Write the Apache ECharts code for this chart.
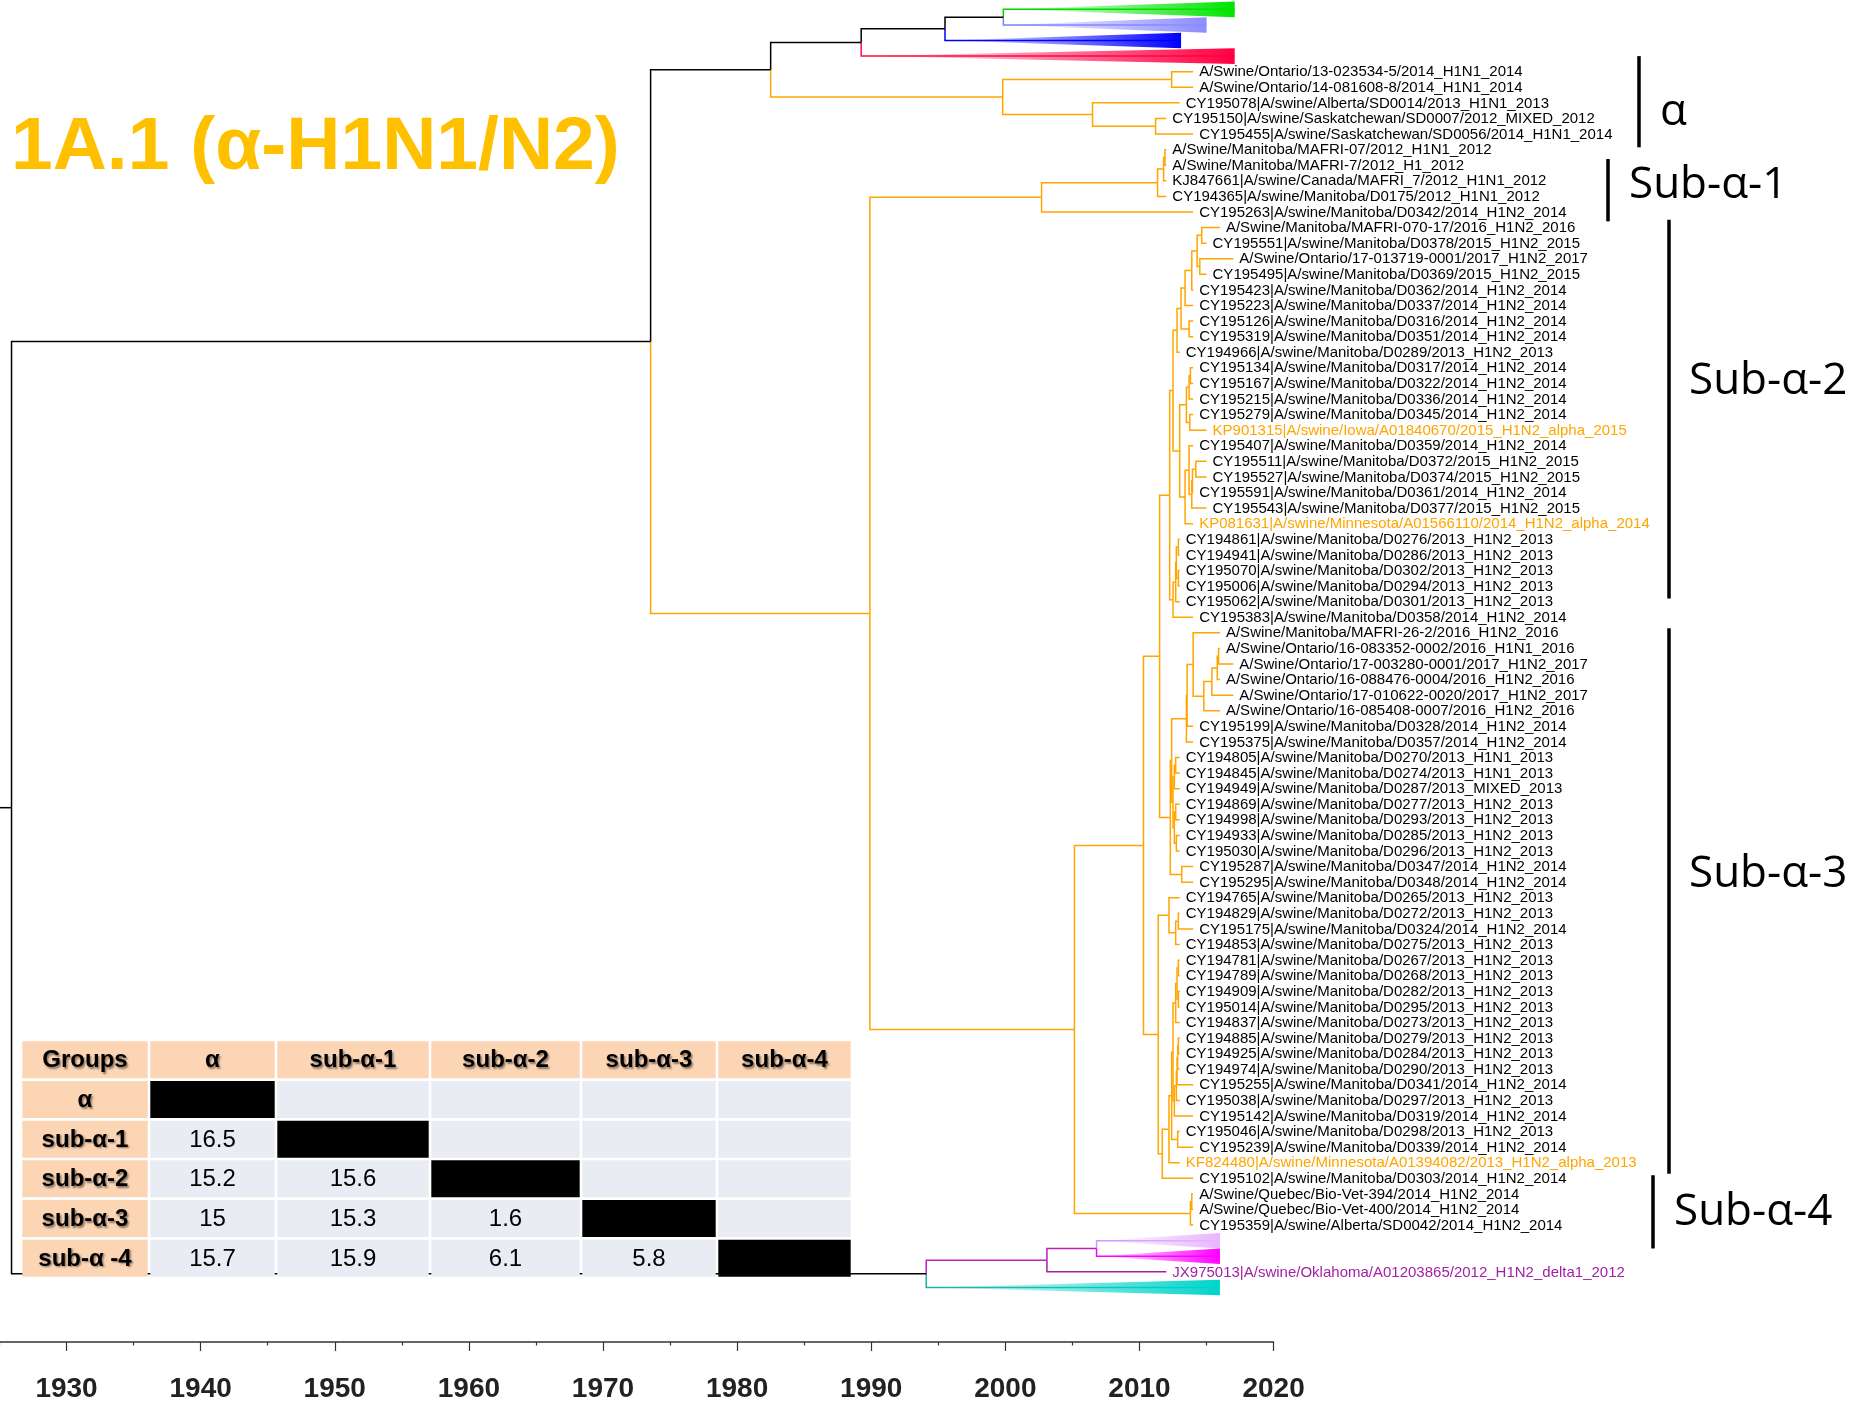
<!DOCTYPE html>
<html><head><meta charset="utf-8"><title>1A.1 phylogeny</title>
<script src="https://cdn.jsdelivr.net/npm/echarts@6/dist/echarts.min.js"></script>
<style>html,body{margin:0;padding:0;background:#fff}#chart{width:1849px;height:1404px}</style>
</head><body><div id="chart"></div>
<script>
// ---------------- DATA ----------------
const axisYears = [1930, 1940, 1950, 1960, 1970, 1980, 1990, 2000, 2010, 2020];

const leafNames = [
 'A/Swine/Ontario/13-023534-5/2014_H1N1_2014',
 'A/Swine/Ontario/14-081608-8/2014_H1N1_2014',
 'CY195078|A/swine/Alberta/SD0014/2013_H1N1_2013',
 'CY195150|A/swine/Saskatchewan/SD0007/2012_MIXED_2012',
 'CY195455|A/swine/Saskatchewan/SD0056/2014_H1N1_2014',
 'A/Swine/Manitoba/MAFRI-07/2012_H1N1_2012',
 'A/Swine/Manitoba/MAFRI-7/2012_H1_2012',
 'KJ847661|A/swine/Canada/MAFRI_7/2012_H1N1_2012',
 'CY194365|A/swine/Manitoba/D0175/2012_H1N1_2012',
 'CY195263|A/swine/Manitoba/D0342/2014_H1N2_2014',
 'A/Swine/Manitoba/MAFRI-070-17/2016_H1N2_2016',
 'CY195551|A/swine/Manitoba/D0378/2015_H1N2_2015',
 'A/Swine/Ontario/17-013719-0001/2017_H1N2_2017',
 'CY195495|A/swine/Manitoba/D0369/2015_H1N2_2015',
 'CY195423|A/swine/Manitoba/D0362/2014_H1N2_2014',
 'CY195223|A/swine/Manitoba/D0337/2014_H1N2_2014',
 'CY195126|A/swine/Manitoba/D0316/2014_H1N2_2014',
 'CY195319|A/swine/Manitoba/D0351/2014_H1N2_2014',
 'CY194966|A/swine/Manitoba/D0289/2013_H1N2_2013',
 'CY195134|A/swine/Manitoba/D0317/2014_H1N2_2014',
 'CY195167|A/swine/Manitoba/D0322/2014_H1N2_2014',
 'CY195215|A/swine/Manitoba/D0336/2014_H1N2_2014',
 'CY195279|A/swine/Manitoba/D0345/2014_H1N2_2014',
 'KP901315|A/swine/Iowa/A01840670/2015_H1N2_alpha_2015',
 'CY195407|A/swine/Manitoba/D0359/2014_H1N2_2014',
 'CY195511|A/swine/Manitoba/D0372/2015_H1N2_2015',
 'CY195527|A/swine/Manitoba/D0374/2015_H1N2_2015',
 'CY195591|A/swine/Manitoba/D0361/2014_H1N2_2014',
 'CY195543|A/swine/Manitoba/D0377/2015_H1N2_2015',
 'KP081631|A/swine/Minnesota/A01566110/2014_H1N2_alpha_2014',
 'CY194861|A/swine/Manitoba/D0276/2013_H1N2_2013',
 'CY194941|A/swine/Manitoba/D0286/2013_H1N2_2013',
 'CY195070|A/swine/Manitoba/D0302/2013_H1N2_2013',
 'CY195006|A/swine/Manitoba/D0294/2013_H1N2_2013',
 'CY195062|A/swine/Manitoba/D0301/2013_H1N2_2013',
 'CY195383|A/swine/Manitoba/D0358/2014_H1N2_2014',
 'A/Swine/Manitoba/MAFRI-26-2/2016_H1N2_2016',
 'A/Swine/Ontario/16-083352-0002/2016_H1N1_2016',
 'A/Swine/Ontario/17-003280-0001/2017_H1N2_2017',
 'A/Swine/Ontario/16-088476-0004/2016_H1N2_2016',
 'A/Swine/Ontario/17-010622-0020/2017_H1N2_2017',
 'A/Swine/Ontario/16-085408-0007/2016_H1N2_2016',
 'CY195199|A/swine/Manitoba/D0328/2014_H1N2_2014',
 'CY195375|A/swine/Manitoba/D0357/2014_H1N2_2014',
 'CY194805|A/swine/Manitoba/D0270/2013_H1N1_2013',
 'CY194845|A/swine/Manitoba/D0274/2013_H1N1_2013',
 'CY194949|A/swine/Manitoba/D0287/2013_MIXED_2013',
 'CY194869|A/swine/Manitoba/D0277/2013_H1N2_2013',
 'CY194998|A/swine/Manitoba/D0293/2013_H1N2_2013',
 'CY194933|A/swine/Manitoba/D0285/2013_H1N2_2013',
 'CY195030|A/swine/Manitoba/D0296/2013_H1N2_2013',
 'CY195287|A/swine/Manitoba/D0347/2014_H1N2_2014',
 'CY195295|A/swine/Manitoba/D0348/2014_H1N2_2014',
 'CY194765|A/swine/Manitoba/D0265/2013_H1N2_2013',
 'CY194829|A/swine/Manitoba/D0272/2013_H1N2_2013',
 'CY195175|A/swine/Manitoba/D0324/2014_H1N2_2014',
 'CY194853|A/swine/Manitoba/D0275/2013_H1N2_2013',
 'CY194781|A/swine/Manitoba/D0267/2013_H1N2_2013',
 'CY194789|A/swine/Manitoba/D0268/2013_H1N2_2013',
 'CY194909|A/swine/Manitoba/D0282/2013_H1N2_2013',
 'CY195014|A/swine/Manitoba/D0295/2013_H1N2_2013',
 'CY194837|A/swine/Manitoba/D0273/2013_H1N2_2013',
 'CY194885|A/swine/Manitoba/D0279/2013_H1N2_2013',
 'CY194925|A/swine/Manitoba/D0284/2013_H1N2_2013',
 'CY194974|A/swine/Manitoba/D0290/2013_H1N2_2013',
 'CY195255|A/swine/Manitoba/D0341/2014_H1N2_2014',
 'CY195038|A/swine/Manitoba/D0297/2013_H1N2_2013',
 'CY195142|A/swine/Manitoba/D0319/2014_H1N2_2014',
 'CY195046|A/swine/Manitoba/D0298/2013_H1N2_2013',
 'CY195239|A/swine/Manitoba/D0339/2014_H1N2_2014',
 'KF824480|A/swine/Minnesota/A01394082/2013_H1N2_alpha_2013',
 'CY195102|A/swine/Manitoba/D0303/2014_H1N2_2014',
 'A/Swine/Quebec/Bio-Vet-394/2014_H1N2_2014',
 'A/Swine/Quebec/Bio-Vet-400/2014_H1N2_2014',
 'CY195359|A/swine/Alberta/SD0042/2014_H1N2_2014',
 'JX975013|A/swine/Oklahoma/A01203865/2012_H1N2_delta1_2012'
];
const leafYears = [
 2014,2014,2013,2012,2014,
 2012,2012,2012,2012,2014,
 2016,2015,2017,2015,2014,2014,2014,2014,2013,2014,2014,2014,2014,2015,2014,2015,2015,2014,2015,2014,2013,2013,2013,2013,2013,2014,
 2016,2016,2017,2016,2017,2016,2014,2014,2013,2013,2013,2013,2013,2013,2013,2014,2014,2013,2013,2014,2013,2013,2013,2013,2013,2013,2013,2013,2013,2014,2013,2014,2013,2014,2013,2014,
 2014,2014,2014,
 2012
];
const referenceStrains = [23, 29, 70];      // orange labels
const outgroupStrains = [75];              // purple label
// collapsed clades (triangles): tip years and clade colour keys
const collapsedTips = [2017.1, 2015.0, 2013.1, 2017.1, 2016.0, 2016.0, 2016.0];
const collapsedTags = ['g', 'lb', 'b', 'r', 'li', 'm', 't'];
const rootStemYear = 1925;

// tree topology: N(nodeYear, children...) ; 'Lk' = leaf k, 'Ck' = collapsed clade k
const N = (t, ...kids) => ({ t, kids });
const tint = (node, tag) => { node.tag = tag; return node; };

const topCollapsed = N(1989.25, N(1995.5, N(1999.85, 'C0', 'C1'), 'C2'), 'C3');
const cladeAlpha = tint(N(1999.8, N(2012.4, 'L0', 'L1'), N(2006.5, 'L2', N(2011.2, 'L3', 'L4'))), 'o');
const cladeSubA1 = N(2002.7, N(2011.35, N(2011.8, N(2011.9, 'L5', 'L6'), 'L7'), 'L8'), 'L9');
const subA2upper1 = N(2012.8,
  N(2013.1, N(2013.4, N(2013.9, N(2014.3, N(2014.64, 'L10', 'L11'), N(2014.5, 'L12', 'L13')), 'L14'), 'L15'),
    N(2013.7, 'L16', 'L17')), 'L18');
const subA2upper2 = N(2013.0,
  N(2013.5, N(2013.7, N(2013.8, 'L19', 'L20'), 'L21'), N(2013.75, 'L22', 'L23')),
  N(2013.4, N(2013.7, 'L24', N(2013.9, N(2013.95, N(2014.2, 'L25', 'L26'), 'L27'), 'L28')), 'L29'));
const subA2lower = N(2012.5, N(2012.7, N(2012.75, N(2012.9, 'L30', 'L31'), N(2012.9, 'L32', 'L33')), 'L34'), 'L35');
const cladeSubA2 = N(2012.25, N(2012.5, subA2upper1, subA2upper2), subA2lower);
const subA3upper = N(2012.3,
  N(2012.4,
    N(2013.5, N(2013.55, N(2014.0, 'L36', N(2014.8, N(2015.4, N(2015.8, N(2015.9, 'L37', 'L38'), 'L39'), 'L40'), 'L41')), 'L42'), 'L43'),
    N(2012.5, N(2012.6, N(2012.7, 'L44', 'L45'), 'L46'), N(2012.6, N(2012.7, 'L47', 'L48'), N(2012.75, 'L49', 'L50')))),
  N(2013.15, 'L51', 'L52'));
const subA3lower = N(2011.4,
  N(2012.2, 'L53', N(2012.7, N(2012.9, 'L54', 'L55'), 'L56')),
  N(2011.7, N(2012.2, N(2012.4,
    N(2012.5,
      N(2012.7, N(2012.8, N(2012.9, 'L57', 'L58'), N(2012.9, 'L59', 'L60')), 'L61'),
      N(2012.6, N(2012.75, N(2012.8, N(2012.85, N(2012.9, 'L62', 'L63'), 'L64'), 'L65'), 'L66'), 'L67')),
    N(2012.85, 'L68', 'L69')), 'L70'), 'L71'));
const cladeSubA4 = N(2013.8, N(2013.9, 'L72', 'L73'), 'L74');
const orangeMain = tint(N(1989.9, cladeSubA1,
  N(2005.15, N(2010.3, N(2011.5, cladeSubA2, subA3upper), subA3lower), cladeSubA4)), 'o');
const outgroup = N(1994.1, tint(N(2003.1, tint(N(2006.8, 'C4', 'C5'), 'pm'), 'L75'), 'pm'), 'C6');
const treeRoot = N(1925.9, N(1973.55, N(1982.5, topCollapsed, cladeAlpha), orangeMain), outgroup);

// clade annotation bars (in leaf-row units)
const cladeNames = ['α', 'Sub-α-1', 'Sub-α-2', 'Sub-α-3', 'Sub-α-4'];
const cladeRowSpan = [[-1.0, 4.85], [5.6, 9.6], [9.5, 33.8], [35.7, 70.7], [70.8, 75.5]];

// distance table
const tableGroups = ['α', 'sub-α-1', 'sub-α-2', 'sub-α-3', 'sub-α-4'];
const tableRowLabels = ['α', 'sub-α-1', 'sub-α-2', 'sub-α-3', 'sub-α -4'];
const distRow1 = [16.5];
const distRow2 = [15.2, 15.6];
const distRow3 = [15, 15.3, 1.6];
const distRow4 = [15.7, 15.9, 6.1, 5.8];

// ---------------- STYLE / LAYOUT ----------------
const tagColors = { k: '#000000', o: '#ffa500', g: '#00d400', lb: '#7f7fff', b: '#0000ff', r: '#ff0a48',
  li: '#c79cff', m: '#ff00ff', pm: '#bb22bb', p: '#a31fa3', t: '#26aea6' };
const triColors = { g: '#00e400', lb: '#8c8cff', b: '#0000ff', r: '#ff0042', li: '#e8b6ff', m: '#ff00ff', t: '#00d4ca' };
const tagList = Object.keys(tagColors);
const cladeBarX = [1639, 1608, 1669, 1669, 1653];
const cladeLabelX = [1660, 1629, 1689, 1689, 1674];
const cladeLabelRow = [2.6, 7.3, 19.85, 51.5, 73.2];
const tableColW = [128, 127, 154, 151, 136, 135];

// ---------------- BUILD TREE GEOMETRY ----------------
function countLeaves(n) { return typeof n === 'string' ? 1 : n.kids.reduce((s, k) => s + countLeaves(k), 0); }
let slot = -countLeaves(topCollapsed);
const branches = [], triangles = [], tips = [];
function visit(node, parentTag) {
  if (typeof node === 'string') {
    const kind = node[0], idx = +node.slice(1);
    const tag = kind === 'C' ? collapsedTags[idx] : (outgroupStrains.includes(idx) ? 'p' : parentTag);
    const x = kind === 'C' ? collapsedTips[idx] : leafYears[idx];
    const y = slot++;
    if (kind === 'L') tips.push([x, y, idx]);
    return { x, y, tag, kind };
  }
  const tag = node.tag || parentTag;
  const kids = node.kids.map(k => visit(k, tag));
  const info = { x: node.t, y: (kids[0].y + kids[kids.length - 1].y) / 2, tag };
  kids.forEach(k => {
    branches.push([info.x, info.y, k.x, k.y, tagList.indexOf(k.tag)]);
    if (k.kind === 'C') triangles.push([info.x, k.y, k.x, tagList.indexOf(k.tag)]);
  });
  return info;
}
const rootInfo = visit(treeRoot, 'k');
branches.push([rootStemYear, rootInfo.y, rootInfo.x, rootInfo.y, 0]);

// table cells
const distRows = [distRow1, distRow2, distRow3, distRow4];
const cells = [], cellText = [];
cells.push([0, 0, 0]); cellText.push('Groups');
tableGroups.forEach((g, i) => { cells.push([i + 1, 0, 0]); cellText.push(g); });
tableRowLabels.forEach((g, r) => {
  cells.push([0, r + 1, 3]); cellText.push(g);
  for (let c = 0; c < tableGroups.length; c++) {
    if (c === r) { cells.push([c + 1, r + 1, 2]); cellText.push(''); }
    else if (c < r) { cells.push([c + 1, r + 1, 1]); cellText.push(String(distRows[r - 1][c])); }
    else { cells.push([c + 1, r + 1, 1]); cellText.push(''); }
  }
});
const colEdges = [0]; tableColW.forEach(w => colEdges.push(colEdges[colEdges.length - 1] + w));

// ---------------- CHART ----------------
const chart = echarts.init(document.getElementById('chart'), null, { renderer: 'canvas' });
const rowMin = -4.6, rowMax = 81.5;
const leafFont = '15px "Liberation Sans", Arial, sans-serif';

function gradFill(col) {
  const c = echarts.color.parse(col);
  const rgba = a => `rgba(${c[0]},${c[1]},${c[2]},${a})`;
  return new echarts.graphic.LinearGradient(0, 0, 1, 0, [
    { offset: 0, color: rgba(0) }, { offset: 0.45, color: rgba(0.45) }, { offset: 1, color: rgba(1) }]);
}

const option = {
  backgroundColor: '#ffffff',
  animation: false,
  title: {
    text: '1A.1 (α-H1N1/N2)', left: 11, top: 111, padding: 0,
    textStyle: { color: '#ffc000', fontSize: 75, fontWeight: 'bold', fontFamily: '"Liberation Sans", Arial, sans-serif' }
  },
  grid: [
    { left: -67.6, width: 1341.2, top: 0, height: 1342, containLabel: false, outerBoundsMode: 'none' },
    { left: 21, top: 1040, width: colEdges[colEdges.length - 1], height: 238, containLabel: false, outerBoundsMode: 'none' }
  ],
  xAxis: [
    {
      type: 'value', gridIndex: 0, min: 1920, max: 2020, interval: 10,
      axisLine: { show: true, onZero: false, lineStyle: { color: '#333', width: 1.5 } },
      axisTick: { show: true, length: 9, lineStyle: { color: '#333', width: 1.2 } },
      minorTick: { show: true, splitNumber: 2, length: 3.5, lineStyle: { color: '#333', width: 1.2 } },
      splitLine: { show: false }, minorSplitLine: { show: false },
      axisLabel: {
        margin: 33, fontSize: 28, fontWeight: 'bold', color: '#222',
        fontFamily: '"Liberation Sans", Arial, sans-serif',
        formatter: v => axisYears.includes(v) ? String(v) : ''
      }
    },
    { type: 'value', gridIndex: 1, min: 0, max: colEdges[colEdges.length - 1], show: false }
  ],
  yAxis: [
    { type: 'value', gridIndex: 0, min: rowMin, max: rowMax, inverse: true, show: false },
    { type: 'value', gridIndex: 1, min: 0, max: 6, inverse: true, show: false }
  ],
  series: [
    { // branches
      type: 'custom', xAxisIndex: 0, yAxisIndex: 0, silent: true, z: 2,
      data: branches, encode: { x: 0, y: 1 },
      renderItem(params, api) {
        const a = api.coord([api.value(0), api.value(1)]);
        const b = api.coord([api.value(0), api.value(3)]);
        const c = api.coord([api.value(2), api.value(3)]);
        return { type: 'polyline', shape: { points: [a, b, c] },
          style: { stroke: tagColors[tagList[api.value(4)]], lineWidth: 1.5, fill: null } };
      }
    },
    { // collapsed clade triangles
      type: 'custom', xAxisIndex: 0, yAxisIndex: 0, silent: true, z: 3,
      data: triangles, encode: { x: 0, y: 1 },
      renderItem(params, api) {
        const y = api.value(1);
        const p0 = api.coord([api.value(0), y]);
        const p1 = api.coord([api.value(2), y - 0.5]);
        const p2 = api.coord([api.value(2), y + 0.5]);
        return { type: 'polygon', shape: { points: [p0, p1, p2] },
          style: { fill: gradFill(triColors[tagList[api.value(3)]]), stroke: null } };
      }
    },
    { // tip labels
      type: 'custom', xAxisIndex: 0, yAxisIndex: 0, silent: true, z: 4,
      data: tips, encode: { x: 0, y: 1 },
      renderItem(params, api) {
        const p = api.coord([api.value(0), api.value(1)]);
        const idx = api.value(2);
        const col = referenceStrains.includes(idx) ? '#ffa500' : (outgroupStrains.includes(idx) ? '#a31fa3' : '#000000');
        return { type: 'text', x: p[0] + 6, y: p[1] + 0.5,
          style: { text: leafNames[idx], fill: col, font: leafFont, align: 'left', verticalAlign: 'middle' } };
      }
    },
    { // clade bars + names
      type: 'custom', xAxisIndex: 0, yAxisIndex: 0, silent: true, z: 4,
      data: cladeRowSpan.map((s, i) => [2000, s[0], s[1], i]), encode: { x: 0, y: 1 },
      renderItem(params, api) {
        const i = api.value(3);
        const y0 = api.coord([2000, api.value(1)])[1];
        const y1 = api.coord([2000, api.value(2)])[1];
        const yl = api.coord([2000, cladeLabelRow[i]])[1];
        return { type: 'group', children: [
          { type: 'rect', shape: { x: cladeBarX[i] - 1.75, y: y0, width: 3.5, height: y1 - y0 }, style: { fill: '#000' } },
          { type: 'text', x: cladeLabelX[i], y: yl,
            style: { text: cladeNames[i], fill: '#000', font: '44px "Open Sans", "Liberation Sans", sans-serif', align: 'left', verticalAlign: 'middle' } }
        ] };
      }
    },
    { // distance table
      type: 'custom', xAxisIndex: 1, yAxisIndex: 1, silent: true, z: 10,
      data: cells, encode: { x: 0, y: 1 },
      renderItem(params, api) {
        const c = api.value(0), r = api.value(1), kind = api.value(2);
        const p0 = api.coord([colEdges[c], r]);
        const p1 = api.coord([colEdges[c + 1], r + 1]);
        const fill = kind === 0 || kind === 3 ? '#fcd5b4' : (kind === 2 ? '#000000' : '#e9ecf3');
        const header = kind === 0 || kind === 3;
        const txt = cellText[params.dataIndex];
        return { type: 'group', children: [
          { type: 'rect', shape: { x: p0[0] + 1.3, y: p0[1] + 1.3, width: p1[0] - p0[0] - 2.6, height: p1[1] - p0[1] - 2.6 },
            style: { fill } },
          { type: 'text', x: (p0[0] + p1[0]) / 2, y: (p0[1] + p1[1]) / 2 + 1,
            style: { text: txt, fill: '#000', align: 'center', verticalAlign: 'middle',
              font: (header ? 'bold ' : '') + '24px "Liberation Sans", Arial, sans-serif',
              textShadowColor: header ? 'rgba(0,0,0,0.45)' : 'transparent', textShadowBlur: header ? 2 : 0,
              textShadowOffsetX: header ? 1.5 : 0, textShadowOffsetY: header ? 1.5 : 0 } }
        ] };
      }
    }
  ]
};
chart.setOption(option);
</script></body></html>
